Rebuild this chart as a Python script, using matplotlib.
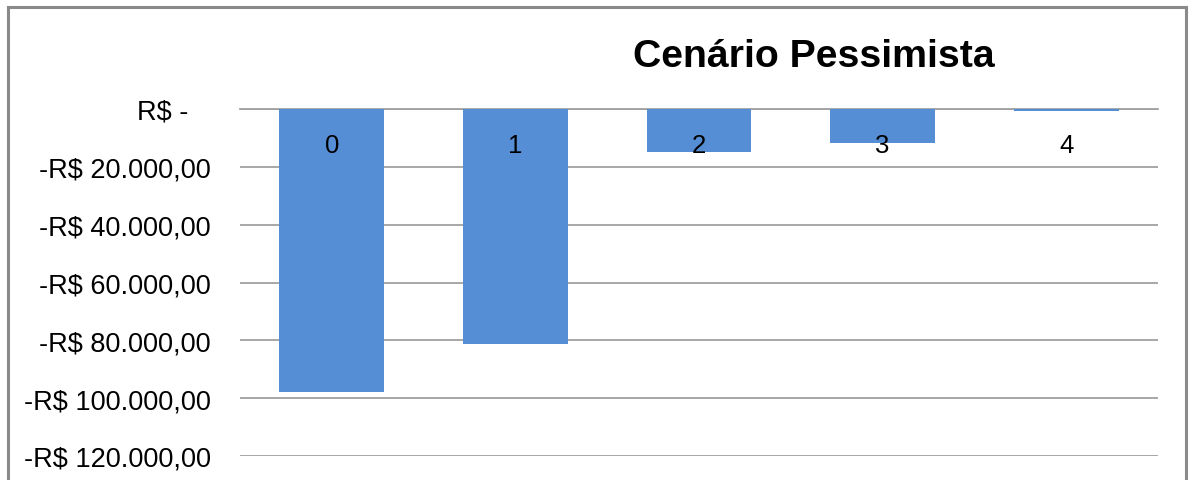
import numpy as np
import matplotlib.pyplot as plt
from matplotlib.patches import Rectangle

# dados do cenario pessimista
periodos = ["0", "1", "2", "3", "4"]
fluxo = [-97800, -81400, -14800, -11800, -600]
yticks = [0, -20000, -40000, -60000, -80000, -100000, -120000]


def fmt_real(v):
    if v == 0:
        return "R$ -   "
    s = f"{abs(v):,.2f}".replace(",", "X").replace(".", ",").replace("X", ".")
    return ("-" if v < 0 else "") + "R$ " + s


plt.rcParams["font.family"] = ["Liberation Sans", "DejaVu Sans"]

fig = plt.figure(figsize=(11.89, 4.81), dpi=100)
ax = fig.add_axes([240 / 1189, 1 - 457 / 481, (1158 - 240) / 1189, (457 - 110) / 481])

x = np.arange(len(periodos))
ax.bar(x, fluxo, width=0.57, color="#558ED5", zorder=3)

ax.set_xlim(-0.5, len(periodos) - 0.5)
ax.set_ylim(-120000, 0)
ax.set_yticks(yticks)
ax.set_yticklabels([fmt_real(v) for v in yticks], fontsize=19.5)
ax.tick_params(axis="y", length=0, pad=21)
ax.set_xticks([])

ax.grid(axis="y", color="#A0A0A0", linewidth=1.3, zorder=0)
for s in ["left", "right", "bottom"]:
    ax.spines[s].set_visible(False)
ax.spines["top"].set_color("#A0A0A0")
ax.spines["top"].set_linewidth(1.3)

# rotulos das categorias logo abaixo do eixo zero
for xi, lab in zip(x, periodos):
    ax.annotate(lab, (xi, 0), xytext=(0, -26), textcoords="offset points",
                ha="center", va="center", fontsize=18.5, zorder=5)

fig.text(814 / 1189, 1 - 57 / 481, "Cenário Pessimista", ha="center", va="center",
         fontsize=28.3, fontweight="bold")

# moldura do grafico
fig.patches.append(Rectangle((7.5 / 1189, -0.05), (1185.5 - 7.5) / 1189, 1.05 - 8 / 481,
                             transform=fig.transFigure, fill=False,
                             edgecolor="#8A8A8A", linewidth=2.2))

fig.savefig("out.png", dpi=100, facecolor="white")
